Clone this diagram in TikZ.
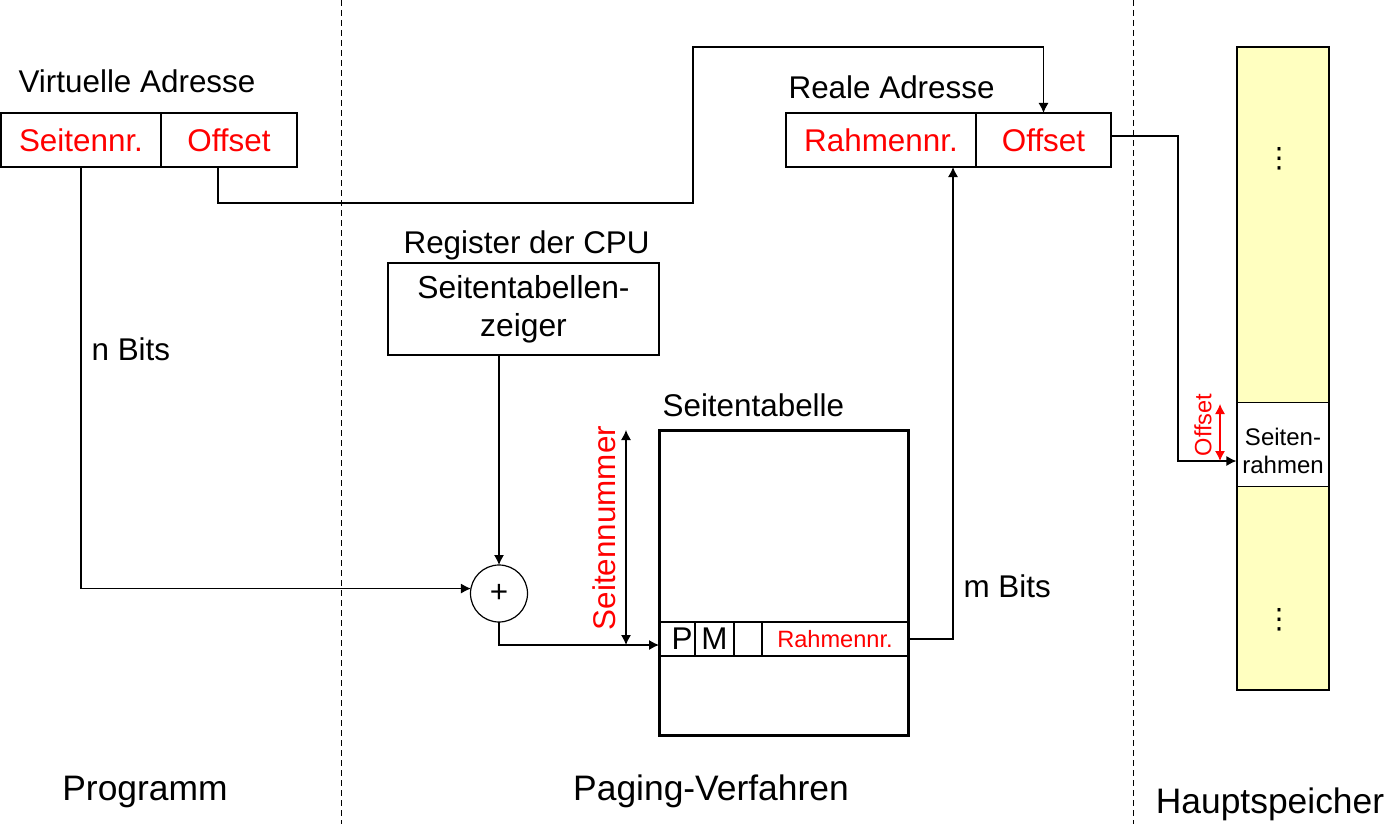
\documentclass[tikz,border=0pt]{standalone}
\usepackage{fontspec}
\setmainfont{Liberation Sans}
\newfontfamily\dotsfont{DejaVu Sans}
\usetikzlibrary{arrows.meta}
\definecolor{memyellow}{HTML}{FFFFC0}
\tikzset{
  field/.style      = {rectangle, draw, inner sep=0pt, outer sep=0pt, minimum height=27pt, text=red},
  cell/.style       = {rectangle, draw, inner sep=0pt, outer sep=0pt, minimum height=17pt},
  adder/.style      = {circle, draw, inner sep=0pt, outer sep=0pt, minimum size=28.5pt},
  text-node/.style  = {draw=none, inner sep=0pt},
  big-node/.style   = {draw=none, inner sep=0pt, font=\fontsize{17.7}{21}\selectfont},
  small-node/.style = {font=\fontsize{11.8}{14}\selectfont},
  dots-node/.style  = {inner sep=0pt, font=\dotsfont\fontsize{14}{16}\selectfont},
  bound/.style      = {dashed, dash pattern=on 3pt off 2pt, line width=0.5pt},
}

\begin{document}
\begin{tikzpicture}
  [
    x                 = 0.5pt,
    y                 = -0.5pt,
    line width        = 0.6pt,
    link/.style       = {draw, -{Latex[length=5pt,width=5pt]}},
    both/.style       = {draw, {Latex[length=5pt,width=5pt]}-{Latex[length=5pt,width=5pt]}},
    every node/.style = {font=\fontsize{15.7}{18.5}\selectfont}
  ]
  \useasboundingbox (0,0) rectangle (1396,824);
  \draw [bound] (341,0) -- (341,824);
  \draw [bound] (1133,0) -- (1133,824);

  \node [text-node, anchor=base west] (vlabel) at (18,93) {Virtuelle Adresse};
  \node [field, minimum width=80pt] (vpage) at (81,140) {Seitennr.};
  \node [field, minimum width=68pt] (voff) at (229,140) {Offset};

  \node [text-node, anchor=base west] (rlabel) at (788,98) {Reale Adresse};
  \node [field, minimum width=95pt] (rframe) at (881,140) {Rahmennr.};
  \node [field, minimum width=67.5pt] (roff) at (1043.5,140) {Offset};

  \node [text-node, anchor=base west] (cpulabel) at (403,253) {Register der CPU};
  \node [rectangle, draw, align=center, inner sep=0pt, minimum width=135.5pt, minimum height=46pt, font=\fontsize{15.9}{19}\selectfont] (ptr) at (523.5,309) {Seitentabellen-\\zeiger};

  \node [adder] (sum) at (499,593.5) {+};

  \node [text-node, anchor=base west] (tlabel) at (662,416) {Seitentabelle};
  \node [rectangle, draw, line width=1.5pt, inner sep=0pt, minimum width=124.5pt, minimum height=152.5pt] (table) at (783.5,582.5) {};
  \node [cell, minimum width=18pt] (pbit) at (677,639) {\hspace{5pt}P};
  \node [cell, minimum width=19.5pt] (mbit) at (714.5,639) {M};
  \node [cell, minimum width=14pt] (xbit) at (748,639) {};
  \node [cell, small-node, minimum width=73pt, text=red] (tframe) at (835,639) {Rahmennr.};
  \node [text-node, rotate=90, text=red] (snlabel) at (604,528) {Seitennummer};
  \coordinate (sntop) at (626,430);
  \coordinate (snbot) at (626,645);

  \node [rectangle, draw, fill=memyellow, inner sep=0pt, minimum width=46pt, minimum height=321.5pt] (mem) at (1283,368.5) {};
  \node [rectangle, draw, fill=white, inner sep=0pt, minimum width=46pt, minimum height=42pt] (pframe) at (1283,444.7) {};
  \node [text-node, align=center, font=\fontsize{12}{14}\selectfont] (pftext) at ([yshift=-3pt]pframe.center) {Seiten-\\rahmen};
  \node [dots-node] (dotsa) at (1279,159) {⋮};
  \node [dots-node] (dotsb) at (1279,620) {⋮};
  \node [text-node, small-node, rotate=90, text=red] (offlabel) at (1203,425) {Offset};
  \coordinate (offtop) at (1220,404);
  \coordinate (offbot) at (1220,461);

  \node [text-node, anchor=base west] (nbits) at (91,360) {n Bits};
  \node [text-node, anchor=base west] (mbits) at (963,597) {m Bits};

  \node [big-node, anchor=base] (prog) at (145,800) {Programm};
  \node [big-node, anchor=base] (paging) at (711,800) {Paging-Verfahren};
  \node [big-node, anchor=base] (hsp) at (1270,813) {Hauptspeicher};

  \coordinate (bendA) at (693,203);
  \coordinate (bendB) at (693,47);
  \coordinate (bendC) at (953,639);
  \coordinate (bendD) at (1178,461);

  \draw [link] (vpage.south) |- (sum.170);
  \draw [link] (ptr.south -| sum.north) -- (sum.north);
  \draw [link] (sum.south) |- ([yshift=-3pt]pbit.west);
  \draw [both] (sntop) -- (snbot);
  \draw [link] (tframe.east) -- (bendC) -- (bendC |- rframe.south);
  \draw [link] ([xshift=-5.5pt]voff.south) |- (bendA) -- (bendB) -| (roff.north);
  \draw [link] ([yshift=2pt]roff.east) -| (bendD) -- (bendD -| pframe.west);
  \draw [both, red] (offtop) -- (offbot);
\end{tikzpicture}
\end{document}
